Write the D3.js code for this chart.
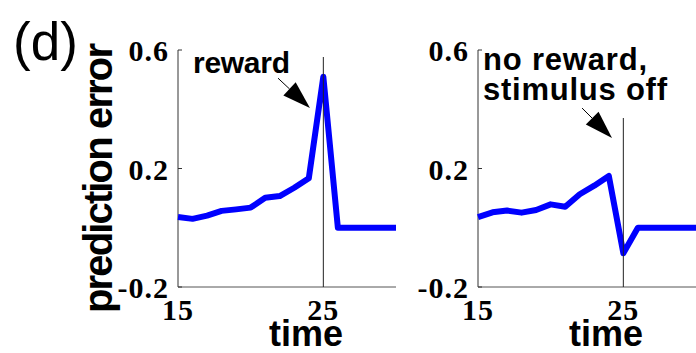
<!DOCTYPE html>
<html>
<head>
<meta charset="UTF-8">
<style>
  body { margin: 0; background: #fff; }
  .tick-label { font-family: "Liberation Serif", "Times New Roman", serif; font-weight: bold; font-size: 30px; letter-spacing: 1px; }
  .label { font-family: "Liberation Sans", Arial, Helvetica, sans-serif; font-weight: bold; }
</style>
</head>
<body>
<script src="https://d3js.org/d3.v7.min.js"></script>
<script>
// data
var time = [15, 16, 17, 18, 19, 20, 21, 22, 23, 24, 25, 26, 27, 28, 29, 30];
var rewardErr   = [0.036, 0.030, 0.041, 0.057, 0.062, 0.068, 0.101, 0.107, 0.135, 0.167, 0.510, 0, 0, 0, 0, 0];
var noRewardErr = [0.036, 0.052, 0.058, 0.051, 0.060, 0.079, 0.071, 0.113, 0.142, 0.175, -0.086, 0, 0, 0, 0, 0];
var yTicks = [-0.2, 0.2, 0.6];
var xTicks = [15, 25];
var eventTime = 25;

var W = 696, H = 353;
var svg = d3.select('body').append('svg').attr('width', W).attr('height', H);

var y = d3.scaleLinear().domain([-0.2, 0.6]).range([287, 50]);

svg.append('text')
    .attr('class', 'label')
    .attr('x', 13).attr('y', 60)
    .style('font-weight', 'normal').style('font-size', '53px')
    .text('(d)');

svg.append('text')
    .attr('class', 'label')
    .attr('transform', 'translate(112,178) rotate(-90)')
    .attr('text-anchor', 'middle')
    .attr('textLength', 270)
    .attr('lengthAdjust', 'spacing')
    .style('font-size', '40px')
    .text('prediction error');

function panel(left, values, vlineTop, notes, arrow) {
    var x = d3.scaleLinear().domain([15, 30]).range([left, left + 218]);
    var g = svg.append('g');

    // axes lines
    g.append('line').attr('x1', left).attr('x2', left).attr('y1', y(0.6)).attr('y2', y(-0.2))
        .attr('stroke', '#333').attr('stroke-width', 1);
    g.append('line').attr('x1', left).attr('x2', x(30)).attr('y1', y(-0.2)).attr('y2', y(-0.2))
        .attr('stroke', '#555').attr('stroke-width', 1);

    yTicks.forEach(function(t) {
        g.append('line').attr('x1', left).attr('x2', left + 4).attr('y1', y(t)).attr('y2', y(t))
            .attr('stroke', '#333');
        g.append('text').attr('class', 'tick-label')
            .attr('x', left - 9).attr('y', y(t) + 11)
            .attr('text-anchor', 'end')
            .text(t === -0.2 ? '-0.2' : t.toFixed(1));
    });
    xTicks.forEach(function(t) {
        g.append('text').attr('class', 'tick-label')
            .attr('x', x(t)).attr('y', 320)
            .attr('text-anchor', 'middle')
            .text(t);
    });

    g.append('text').attr('class', 'label')
        .attr('x', left + 128).attr('y', 346)
        .attr('text-anchor', 'middle')
        .style('font-size', '36px')
        .text('time');

    var line = d3.line().x(function(d, i) { return x(time[i]); }).y(function(d) { return y(d); });
    g.append('path').datum(values)
        .attr('d', line)
        .attr('fill', 'none')
        .attr('stroke', '#0000ff')
        .attr('stroke-width', 6)
        .attr('stroke-linejoin', 'round');

    g.append('line').attr('x1', x(eventTime)).attr('x2', x(eventTime))
        .attr('y1', vlineTop).attr('y2', y(-0.2))
        .attr('stroke', '#222').attr('stroke-width', 1);

    notes.forEach(function(n) {
        g.append('text').attr('class', 'label')
            .attr('x', left + n.dx).attr('y', n.y)
            .style('font-size', n.size + 'px')
            .attr('textLength', n.len).attr('lengthAdjust', 'spacing')
            .text(n.text);
    });

    // arrow
    var x0 = x(arrow.from[0]), y0 = y(arrow.from[1]);
    var x1 = x(arrow.to[0]), y1 = y(arrow.to[1]);
    var dx = x1 - x0, dy = y1 - y0, L = Math.sqrt(dx * dx + dy * dy);
    var ux = dx / L, uy = dy / L, hl = 28, hw = 9;
    var bx = x1 - ux * hl, by = y1 - uy * hl;
    g.append('line').attr('x1', x0).attr('y1', y0).attr('x2', bx).attr('y2', by)
        .attr('stroke', '#000').attr('stroke-width', 1);
    g.append('path')
        .attr('d', 'M' + x1 + ',' + y1 + 'L' + (bx - uy * hw) + ',' + (by + ux * hw) + 'L' + (bx + uy * hw) + ',' + (by - ux * hw) + 'Z')
        .attr('fill', '#000');
}

panel(178, rewardErr, 57,
    [{ text: 'reward', dx: 15, y: 73, size: 30, len: 97 }],
    { from: [21.88, 0.505], to: [24.08, 0.404] });

panel(478, noRewardErr, 118,
    [{ text: 'no reward,', dx: 5, y: 70, size: 31, len: 164 },
     { text: 'stimulus off', dx: 5, y: 100, size: 31, len: 184 }],
    { from: [22.16, 0.404], to: [24.22, 0.303] });
</script>
</body>
</html>
